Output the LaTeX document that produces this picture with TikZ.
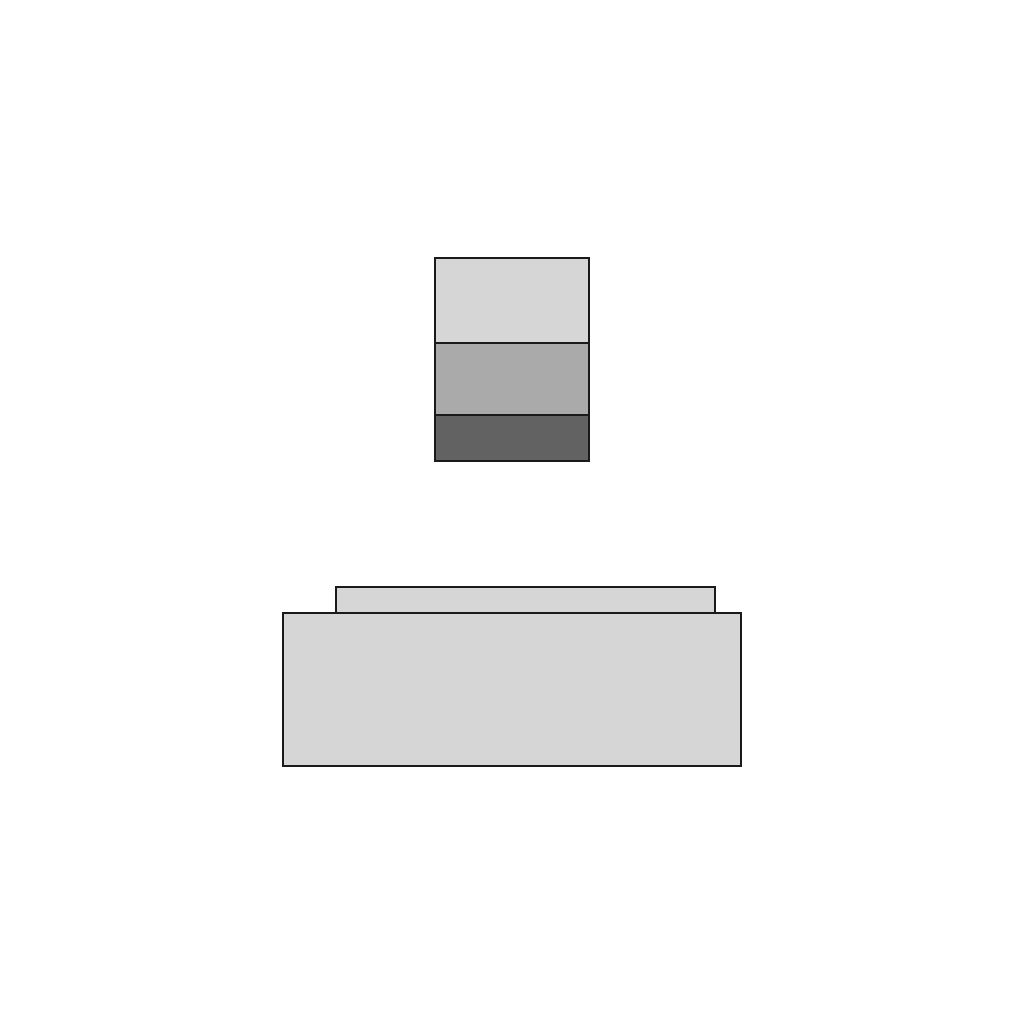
\documentclass[tikz,border=0pt]{standalone}
\usepackage{xcolor}
\definecolor{lightg}{HTML}{D6D6D6}
\definecolor{midg}{HTML}{AAAAAA}
\definecolor{darkg}{HTML}{626262}
\definecolor{edge}{HTML}{1A1A1A}
\begin{document}
\begin{tikzpicture}[x=1pt,y=-1pt,
  part/.style={draw=edge,line width=1.6pt,line join=miter}]
\useasboundingbox[fill=white] (0,0) rectangle (1024,1024);
% top stack
\draw[part,fill=lightg] (435,258) rectangle (589,343);
\draw[part,fill=midg] (435,343) rectangle (589,415);
\draw[part,fill=darkg] (435,415) rectangle (589,461);
% bottom
\draw[part,fill=lightg] (336,587) rectangle (715,613);
\draw[part,fill=lightg] (283,613) rectangle (741,766);
\end{tikzpicture}
\end{document}
